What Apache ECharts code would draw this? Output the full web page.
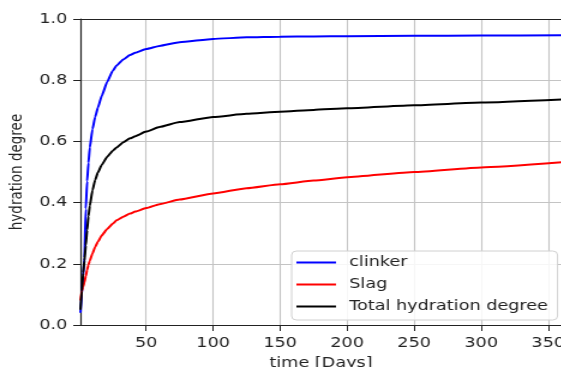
<!DOCTYPE html>
<html>
<head>
<meta charset="utf-8">
<script src="https://cdn.jsdelivr.net/npm/echarts@6/dist/echarts.min.js"></script>
<style>
  html, body { margin: 0; padding: 0; background: #fff; overflow: hidden; }
  /* the reference picture is stretched sideways, so draw narrower and widen it */
  #chart { width: 467.5px; height: 367px; transform: scaleX(1.2); transform-origin: 0 0; }
</style>
</head>
<body>
<div id="chart"></div>
<script>
// time in days
const days = [1, 2, 3, 4, 5, 6, 7, 8, 10, 12, 14, 17, 21, 25, 28, 33, 38, 42, 50, 60, 75, 100, 125, 150, 175, 200, 250, 300, 360];

const clinker = [0.04, 0.10, 0.16, 0.22, 0.38, 0.47, 0.53, 0.58, 0.64, 0.68, 0.71, 0.75, 0.795, 0.83, 0.848, 0.868, 0.882, 0.89, 0.902, 0.912, 0.924, 0.935, 0.94, 0.942, 0.943, 0.944, 0.945, 0.946, 0.947];
const slag = [0.08, 0.11, 0.125, 0.14, 0.16, 0.18, 0.197, 0.21, 0.234, 0.255, 0.272, 0.293, 0.314, 0.331, 0.342, 0.354, 0.364, 0.371, 0.382, 0.395, 0.41, 0.43, 0.447, 0.46, 0.472, 0.483, 0.50, 0.515, 0.532];
const total = [0.05, 0.11, 0.17, 0.21, 0.26, 0.31, 0.355, 0.39, 0.44, 0.474, 0.498, 0.524, 0.55, 0.569, 0.58, 0.597, 0.61, 0.617, 0.632, 0.647, 0.663, 0.68, 0.69, 0.697, 0.703, 0.708, 0.718, 0.727, 0.737];

const xTicks = [50, 100, 150, 200, 250, 300, 350];
const seriesNames = ['clinker', 'Slag', 'Total hydration degree'];
const seriesColors = ['#0000ff', '#ff0000', '#000000'];

const pair = arr => days.map((d, i) => [d, arr[i]]);

const chart = echarts.init(document.getElementById('chart'));

const option = {
  animation: false,
  grid: { left: 67, top: 19, right: 0, bottom: 42, outerBoundsMode: 'none' },
  xAxis: [{
    type: 'value',
    min: 1,
    max: 360,
    name: 'time [Days]',
    nameLocation: 'middle',
    nameGap: 31,
    nameTextStyle: { fontFamily: 'DejaVu Sans', fontSize: 14.7, color: '#222' },
    axisLine: { show: true, onZero: false, lineStyle: { color: '#222', width: 1.2 } },
    axisTick: { show: true, length: 6, customValues: xTicks, lineStyle: { color: '#222' } },
    axisLabel: { customValues: xTicks, margin: 11, fontFamily: 'DejaVu Sans', fontSize: 14.7, color: '#222' },
    splitLine: { show: true, lineStyle: { color: '#c4c4c4', width: 1.1 } }
  }, {
    type: 'value',
    position: 'top',
    min: 1,
    max: 360,
    axisLine: { show: true, onZero: false, lineStyle: { color: '#222', width: 1.2 } },
    axisTick: { show: false },
    axisLabel: { show: false },
    splitLine: { show: false }
  }],
  yAxis: {
    type: 'value',
    min: 0,
    max: 1,
    interval: 0.2,
    name: 'hydration degree',
    nameLocation: 'middle',
    nameGap: 44,
    nameTextStyle: { fontFamily: 'DejaVu Sans', fontSize: 13.5, color: '#222' },
    axisLine: { show: true, lineStyle: { color: '#222', width: 1.2 } },
    axisTick: { show: true, length: 6, lineStyle: { color: '#222' } },
    axisLabel: {
      margin: 11,
      fontFamily: 'DejaVu Sans',
      fontSize: 14.7,
      color: '#222',
      formatter: v => v.toFixed(1)
    },
    splitLine: { show: true, lineStyle: { color: '#c4c4c4', width: 1.2 } }
  },
  legend: {
    orient: 'vertical',
    left: 243,
    top: 251,
    data: seriesNames,
    icon: 'path://M0,0 L40,0 L40,2.4 L0,2.4 Z',
    itemWidth: 33,
    itemHeight: 14,
    itemGap: 7,
    padding: [4, 8, 6, 4],
    backgroundColor: 'rgba(255,255,255,0.85)',
    borderColor: '#d0d0d0',
    borderWidth: 1,
    borderRadius: 4,
    textStyle: { fontFamily: 'DejaVu Sans', fontSize: 14.7, color: '#222', padding: [0, 0, 0, 6] }
  },
  series: [clinker, slag, total].map((arr, i) => ({
    name: seriesNames[i],
    type: 'line',
    data: pair(arr),
    showSymbol: false,
    symbol: 'none',
    smooth: 0.15,
    smoothMonotone: 'x',
    color: seriesColors[i],
    lineStyle: { width: 2, color: seriesColors[i] },
    z: 3 + i
  }))
};

chart.setOption(option);
</script>
</body>
</html>
